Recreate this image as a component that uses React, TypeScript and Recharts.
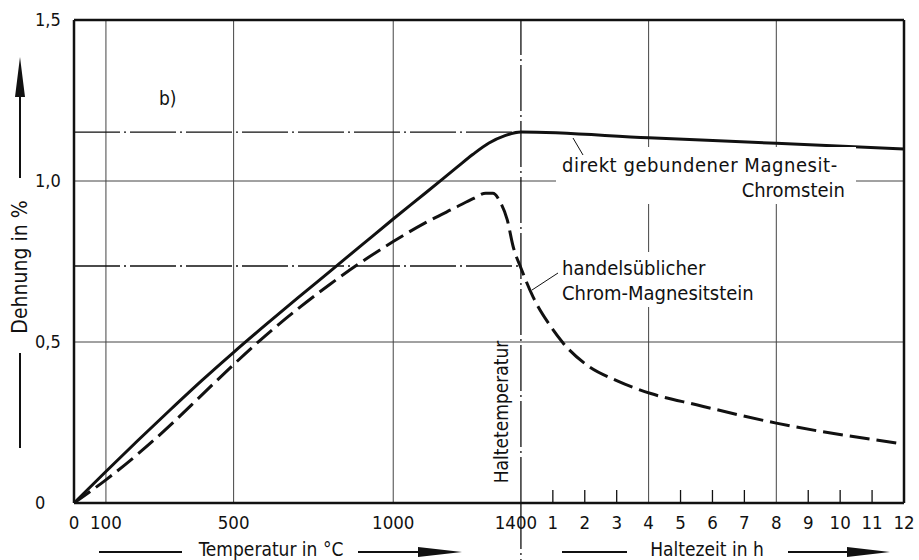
import React from "react";
import {
  LineChart,
  Line,
  XAxis,
  YAxis,
  CartesianGrid,
  ReferenceLine,
} from "recharts";

// x axis: 0..1400 °C, then hold time in h mapped as 1400 + 100 * h
const tempTicks = [0, 100, 500, 1000, 1400];
const hourTicks = [1, 2, 3, 4, 5, 6, 7, 8, 9, 10, 11, 12];
const yTicks = [0, 0.5, 1.0, 1.5];
const yTickLabels = ["0", "0,5", "1,0", "1,5"];

// direkt gebundener Magnesit-Chromstein (solid)
const solidX = [0, 100, 200, 300, 400, 500, 600, 700, 800, 900, 1000, 1100, 1200, 1250, 1300, 1350, 1400, 1800, 2200, 2600];
const solidY = [0, 0.098, 0.194, 0.288, 0.38, 0.468, 0.553, 0.636, 0.718, 0.8, 0.882, 0.962, 1.043, 1.083, 1.118, 1.141, 1.152, 1.134, 1.117, 1.099];

// handelsüblicher Chrom-Magnesitstein (dashed)
const dashX = [0, 100, 200, 300, 400, 500, 600, 700, 800, 900, 1000, 1100, 1200, 1250, 1290, 1312, 1335, 1357, 1376, 1400, 1438, 1490, 1532, 1607, 1700, 1807, 1950, 2200, 2600];
const dashY = [0, 0.072, 0.152, 0.24, 0.335, 0.43, 0.52, 0.602, 0.678, 0.748, 0.812, 0.87, 0.92, 0.945, 0.962, 0.962, 0.935, 0.88, 0.795, 0.73, 0.64, 0.553, 0.497, 0.428, 0.38, 0.34, 0.305, 0.248, 0.183];

const gridX = [100, 500, 1000, 1800, 2200];
const gridY = [0.5, 1.0];
const peakSolid = 1.152;
const peakDashAt1400 = 0.736;

const solidData = solidX.map((x, i) => ({ x, y: solidY[i] }));
const dashData = dashX.map((x, i) => ({ x, y: dashY[i] }));
const hourPos = (h: number) => 1400 + h * 100;
const xTicks = [...tempTicks, ...hourTicks.map(hourPos)];

const FONT = "'DejaVu Sans Condensed', 'DejaVu Sans', sans-serif";
const INK = "#111";
const DASHDOT = "46 4 2 4";

const XTick = (props: any) => {
  const { x, y, payload } = props;
  const v = payload.value as number;
  const label = v > 1400 ? String((v - 1400) / 100) : String(v);
  const isHour = v > 1400 && v < 2600 && v !== hourPos(4) && v !== hourPos(8);
  return (
    <g>
      {isHour && <line x1={x} x2={x} y1={y} y2={y - 13} stroke={INK} strokeWidth={1.3} />}
      {v === 1400 && (
        <line x1={x} x2={x} y1={y} y2={y + 57} stroke={INK} strokeWidth={1.3} strokeDasharray={DASHDOT} />
      )}
      <text
        x={v === 1400 ? x - 5 : x}
        y={y + 26}
        textAnchor="middle"
        fontFamily={FONT}
        fontSize={18.5}
        fill={INK}
      >
        {label}
      </text>
    </g>
  );
};

const YTick = (props: any) => {
  const { x, y, payload } = props;
  const idx = yTicks.indexOf(payload.value);
  return (
    <text x={x - 39} y={y + 6} textAnchor="start" fontFamily={FONT} fontSize={18} fill={INK}>
      {yTickLabels[idx]}
    </text>
  );
};

const Overlay = () => (
  <svg
    width={919}
    height={560}
    style={{ position: "absolute", left: 0, top: 0, pointerEvents: "none" }}
    fontFamily={FONT}
    fill={INK}
  >
    {/* white backing behind the curve labels */}
    <rect x={556} y={147} width={300} height={57} fill="#fff" />
    <rect x={556} y={252} width={204} height={55} fill="#fff" />

    <text x={159} y={105} fontSize={19}>b)</text>

    <text x={562} y={172} fontSize={20} letterSpacing={0.55}>direkt gebundener Magnesit-</text>
    <text x={845} y={197} fontSize={20} textAnchor="end">Chromstein</text>
    <line x1={583} y1={155} x2={573} y2={138} stroke={INK} strokeWidth={1} />

    <text x={562} y={275} fontSize={20}>handelsüblicher</text>
    <text x={562} y={300} fontSize={20}>Chrom-Magnesitstein</text>
    <line x1={558} y1={273} x2={532} y2={290} stroke={INK} strokeWidth={1} />

    <text x={0} y={0} fontSize={19} textAnchor="middle" transform="translate(508 412) rotate(-90)">
      Haltetemperatur
    </text>

    {/* y axis title */}
    <line x1={20} y1={95} x2={20} y2={178} stroke={INK} strokeWidth={2} />
    <polygon points="20,57 15,97 25,97" fill={INK} />
    <text x={0} y={0} fontSize={21} textAnchor="middle" transform="translate(27 267) rotate(-90)">
      Dehnung in %
    </text>
    <line x1={20} y1={353} x2={20} y2={448} stroke={INK} strokeWidth={2} />

    {/* x axis titles */}
    <line x1={99} y1={552} x2={182} y2={552} stroke={INK} strokeWidth={2} />
    <text x={271} y={556} fontSize={19} textAnchor="middle">Temperatur in °C</text>
    <line x1={358} y1={552} x2={420} y2={552} stroke={INK} strokeWidth={2} />
    <polygon points="462,552 418,547 418,557" fill={INK} />

    <line x1={562} y1={552} x2={627} y2={552} stroke={INK} strokeWidth={2} />
    <text x={707} y={556} fontSize={19} textAnchor="middle">Haltezeit in h</text>
    <line x1={788} y1={552} x2={849} y2={552} stroke={INK} strokeWidth={2} />
    <polygon points="890,552 847,547 847,557" fill={INK} />
  </svg>
);

export default function App() {
  return (
    <div style={{ position: "absolute", left: 0, top: 0, width: 919, height: 560, background: "#fff" }}>
      <LineChart width={919} height={560} margin={{ top: 20, right: 15, bottom: 0, left: 0 }}>
        <CartesianGrid
          horizontal
          vertical
          horizontalValues={gridY}
          verticalValues={gridX}
          stroke="#444"
          strokeWidth={1}
        />
        <XAxis
          type="number"
          dataKey="x"
          domain={[0, 2600]}
          ticks={xTicks}
          interval={0}
          height={57}
          tickSize={0}
          tickMargin={0}
          tickLine={false}
          axisLine={{ stroke: INK, strokeWidth: 2.5 }}
          tick={<XTick />}
          allowDataOverflow
        />
        <YAxis
          type="number"
          domain={[0, 1.5]}
          ticks={yTicks}
          width={74}
          tickSize={0}
          tickMargin={0}
          tickLine={false}
          axisLine={{ stroke: INK, strokeWidth: 2.5 }}
          tick={<YTick />}
          allowDataOverflow
        />
        <ReferenceLine y={1.5} stroke={INK} strokeWidth={2.5} />
        <ReferenceLine x={2600} stroke={INK} strokeWidth={2.5} />
        <ReferenceLine x={1400} stroke={INK} strokeWidth={1.3} strokeDasharray={DASHDOT} />
        <ReferenceLine
          segment={[{ x: 0, y: peakSolid }, { x: 1400, y: peakSolid }]}
          stroke={INK}
          strokeWidth={1.3}
          strokeDasharray={DASHDOT}
        />
        <ReferenceLine
          segment={[{ x: 0, y: peakDashAt1400 }, { x: 1400, y: peakDashAt1400 }]}
          stroke={INK}
          strokeWidth={1.3}
          strokeDasharray={DASHDOT}
        />
        <Line
          data={solidData}
          dataKey="y"
          type="monotone"
          stroke={INK}
          strokeWidth={3}
          dot={false}
          isAnimationActive={false}
        />
        <Line
          data={dashData}
          dataKey="y"
          type="monotone"
          stroke={INK}
          strokeWidth={3}
          strokeDasharray="20 7"
          dot={false}
          isAnimationActive={false}
        />
      </LineChart>
      <Overlay />
    </div>
  );
}
